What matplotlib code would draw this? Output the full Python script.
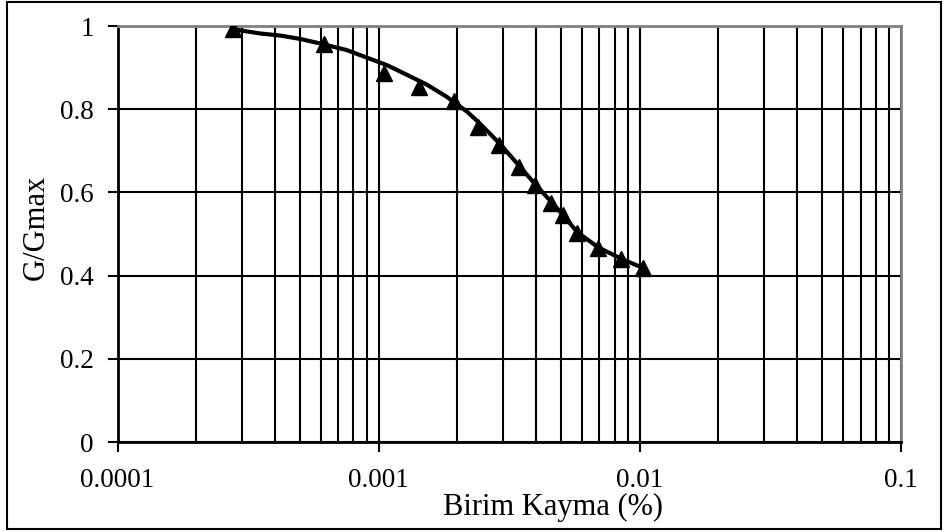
import matplotlib
matplotlib.use('Agg')
import matplotlib.pyplot as plt
from matplotlib.patches import Rectangle
from matplotlib.ticker import LogLocator, FixedLocator, NullFormatter

plt.rcParams['font.family'] = ['Liberation Serif', 'DejaVu Serif']

# measured points (triangles)
gamma = [2.78e-4, 6.2e-4, 1.05e-3, 1.43e-3, 1.95e-3, 2.40e-3, 2.90e-3, 3.45e-3,
         3.97e-3, 4.57e-3, 5.08e-3, 5.75e-3, 6.92e-3, 8.46e-3, 1.03e-2]
ratio = [0.992, 0.957, 0.888, 0.854, 0.820, 0.758, 0.714, 0.661,
         0.618, 0.575, 0.546, 0.502, 0.466, 0.440, 0.418]

# smooth curve
curve_x = [2.78e-4, 3.52e-4, 4.20e-4, 5.0e-4, 5.97e-4, 7.56e-4, 9.01e-4, 1.075e-3,
           1.28e-3, 1.53e-3, 1.82e-3, 2.18e-3, 2.40e-3, 2.90e-3, 3.45e-3, 3.97e-3,
           4.57e-3, 5.08e-3, 5.75e-3, 6.92e-3, 8.46e-3, 1.03e-2]
curve_y = [0.992, 0.982, 0.977, 0.969, 0.958, 0.942, 0.924, 0.906,
           0.883, 0.859, 0.830, 0.794, 0.770, 0.718, 0.664, 0.620,
           0.578, 0.546, 0.505, 0.468, 0.441, 0.418]

x_ticks = [0.0001, 0.001, 0.01, 0.1]
x_labels = ['0.0001', '0.001', '0.01', '0.1']
y_ticks = [0, 0.2, 0.4, 0.6, 0.8, 1]
y_labels = ['0', '0.2', '0.4', '0.6', '0.8', '1']

fig = plt.figure(figsize=(9.43, 5.31), dpi=100)
ax = fig.add_axes([117.5/943, 89/531, (901-117.5)/943, (442-26)/531])

ax.plot(curve_x, curve_y, color='black', lw=3, zorder=3)
ax.plot(gamma, ratio, linestyle='none', marker='^', ms=11.5, color='black', zorder=4)

ax.set_xscale('log')
ax.set_xlim(1e-4, 1e-1)
ax.set_ylim(0, 1)
ax.xaxis.set_major_locator(FixedLocator(x_ticks))
ax.set_xticklabels(x_labels)
ax.xaxis.set_minor_locator(LogLocator(base=10, subs=range(2, 10)))
ax.xaxis.set_minor_formatter(NullFormatter())
ax.set_yticks(y_ticks)
ax.set_yticklabels(y_labels)

ax.grid(True, which='major', color='black', lw=1.5)
ax.grid(True, which='minor', axis='x', color='black', lw=1.5)
ax.set_axisbelow(True)

ax.tick_params(axis='both', which='major', direction='out', length=7, width=1.5,
               labelsize=19.5, colors='black')
ax.tick_params(axis='y', pad=10)
ax.tick_params(axis='x', pad=12)
ax.tick_params(axis='x', which='minor', length=0)

for s in ['left', 'bottom']:
    ax.spines[s].set_color('black')
    ax.spines[s].set_linewidth(2)
for s in ['top', 'right']:
    ax.spines[s].set_color('#808080')
    ax.spines[s].set_linewidth(2)

fig.text(553/943, 1 - 507/531, 'Birim Kayma (%)', fontsize=22, ha='center', va='center')
fig.text(36/943, 1 - 227/531, 'G/Gmax', fontsize=22, ha='center', va='center', rotation=90)

fig.patches.append(Rectangle((7/943, 2.5/531), (941-7)/943, (529-2.5)/531,
                             transform=fig.transFigure, fill=False,
                             edgecolor='black', lw=1.5))

fig.savefig('out.png', dpi=100)
